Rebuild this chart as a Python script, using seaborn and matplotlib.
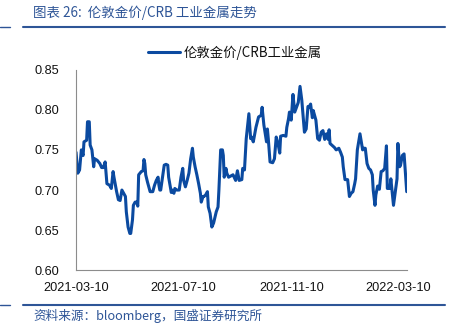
import numpy as np
import pandas as pd
import matplotlib
matplotlib.use("Agg")
import matplotlib.pyplot as plt
import matplotlib.dates as mdates
from matplotlib.lines import Line2D
import seaborn as sns

start_date = "2021-03-10"
day_offsets = [0,2,4,6,8,9,12,13,15,16,
 18,20,21,24,27,29,31,33,35,38,
 40,42,43,46,48,50,52,54,56,57,
 59,61,62,64,65,67,69,70,71,74,
 76,77,78,79,81,84,87,89,91,93,
 94,95,96,98,99,100,102,104,105,108,
 109,111,112,114,115,117,119,121,122,124,
 126,128,130,132,133,135,137,139,141,142,
 144,145,147,149,150,152,154,156,159,161,
 162,164,166,167,168,170,171,173,178,181,
 183,185,188,189,191,193,196,198,199,201,
 204,207,210,211,213,214,216,217,218,220,
 223,225,227,229,231,232,235,238,239,241,
 242,244,246,248,250,252,254,256,259,261,
 263,264,266,268,269,272,274,276,278,280,
 282,284,286,287,288,291,293,295,298,300,
 302,303,305,308,310,312,314,316,317,319,
 322,325,326,328,330,332,334,336,337,339,
 340,342,344,346,348,350,352,353,356,357,
 360,362,364,365,367,368,370,372,375]
ratio = [.747,.721,.725,.750,.743,.760,.762,.785,.785,.756,
 .750,.729,.739,.737,.733,.728,.728,.735,.708,.706,
 .702,.723,.716,.698,.688,.687,.700,.696,.692,.673,
 .654,.646,.646,.663,.681,.685,.685,.680,.719,.723,
 .724,.738,.733,.719,.710,.698,.698,.706,.712,.716,
 .706,.700,.700,.716,.725,.731,.732,.731,.716,.697,
 .700,.696,.702,.700,.700,.700,.716,.727,.712,.704,
 .712,.721,.739,.752,.741,.729,.719,.708,.696,.685,
 .692,.692,.694,.698,.679,.671,.654,.659,.673,.679,
 .700,.750,.750,.743,.716,.727,.721,.716,.719,.712,
 .724,.712,.713,.727,.725,.764,.795,.764,.766,.760,
 .778,.791,.793,.803,.781,.774,.760,.776,.764,.735,
 .734,.739,.766,.758,.746,.767,.768,.767,.778,.789,
 .797,.787,.819,.797,.803,.809,.829,.812,.772,.776,
 .804,.803,.807,.790,.799,.787,.764,.762,.772,.774,
 .763,.770,.763,.775,.758,.755,.753,.750,.752,.747,
 .741,.729,.713,.713,.692,.696,.698,.708,.714,.750,
 .770,.750,.752,.752,.733,.727,.725,.719,.700,.681,
 .694,.705,.701,.723,.724,.727,.755,.702,.702,.714,
 .681,.698,.714,.758,.729,.731,.743,.745,.698]
series_name = "伦敦金价/CRB工业金属"
x_tick_labels = ["2021-03-10", "2021-07-10", "2021-11-10", "2022-03-10"]
y_ticks = [0.60, 0.65, 0.70, 0.75, 0.80, 0.85]
title_text = "图表 26:  伦敦金价/CRB 工业金属走势"
source_text = "资料来源：bloomberg，国盛证券研究所"

dates = pd.Timestamp(start_date) + pd.to_timedelta(day_offsets, unit="D")
df = pd.DataFrame({"date": dates, "value": ratio})

sns.set_style("white")
cjk = ["Noto Sans CJK SC", "DejaVu Sans"]
plt.rcParams["font.family"] = cjk

line_color = "#0b4aa0"
blue_text = "#2e5597"
gray = "#8c8c8c"

fig = plt.figure(figsize=(4.5, 3.31), dpi=100)
ax = fig.add_axes([0.169, 0.183, 0.736, 0.607])
sns.lineplot(data=df, x="date", y="value", ax=ax, color=line_color,
             linewidth=2.2, label=series_name)

ax.set_ylim(0.60, 0.85)
ax.set_yticks(y_ticks)
ax.set_yticklabels([f"{v:.2f}" for v in y_ticks])
ax.set_xlim(pd.Timestamp(start_date), df["date"].iloc[-1] + pd.Timedelta(days=0.6))
ax.set_xticks([pd.Timestamp(t) for t in x_tick_labels])
ax.set_xticklabels(x_tick_labels)
ax.set_xlabel("")
ax.set_ylabel("")

for lab in ax.get_xticklabels() + ax.get_yticklabels():
    lab.set_fontfamily(["Liberation Sans", "DejaVu Sans"])
    lab.set_fontsize(9.2)
    lab.set_color("#111111")
ax.tick_params(axis="y", direction="in", length=3, color=gray, width=0.8, pad=12)
ax.tick_params(axis="x", direction="in", length=3, color=gray, width=0.8, pad=8)
for s in ["top", "right"]:
    ax.spines[s].set_visible(False)
for s in ["left", "bottom"]:
    ax.spines[s].set_color(gray)
    ax.spines[s].set_linewidth(0.8)
ax.grid(False)

leg = ax.legend(loc="lower center", bbox_to_anchor=(0.48, 1.02), frameon=False,
                fontsize=9.6, handlelength=2.4, handletextpad=0.25, borderaxespad=0)
for t in leg.get_texts():
    t.set_color("#111111")

fig.text(33/450, 1-13/331, title_text, color=blue_text, fontsize=9.7,
         va="center", ha="left", style="italic")
fig.text(33/450, 1-316/331, source_text, color=blue_text, fontsize=9.1,
         va="center", ha="left", style="italic")

for yy in [27, 305]:
    fig.add_artist(Line2D([23/450, 445/450], [1-yy/331]*2, color="#2e5597", lw=1.5))
    fig.add_artist(Line2D([0, 10/450], [1-yy/331]*2, color="#2e5597", lw=1.0))

fig.savefig("out.png", dpi=100)
